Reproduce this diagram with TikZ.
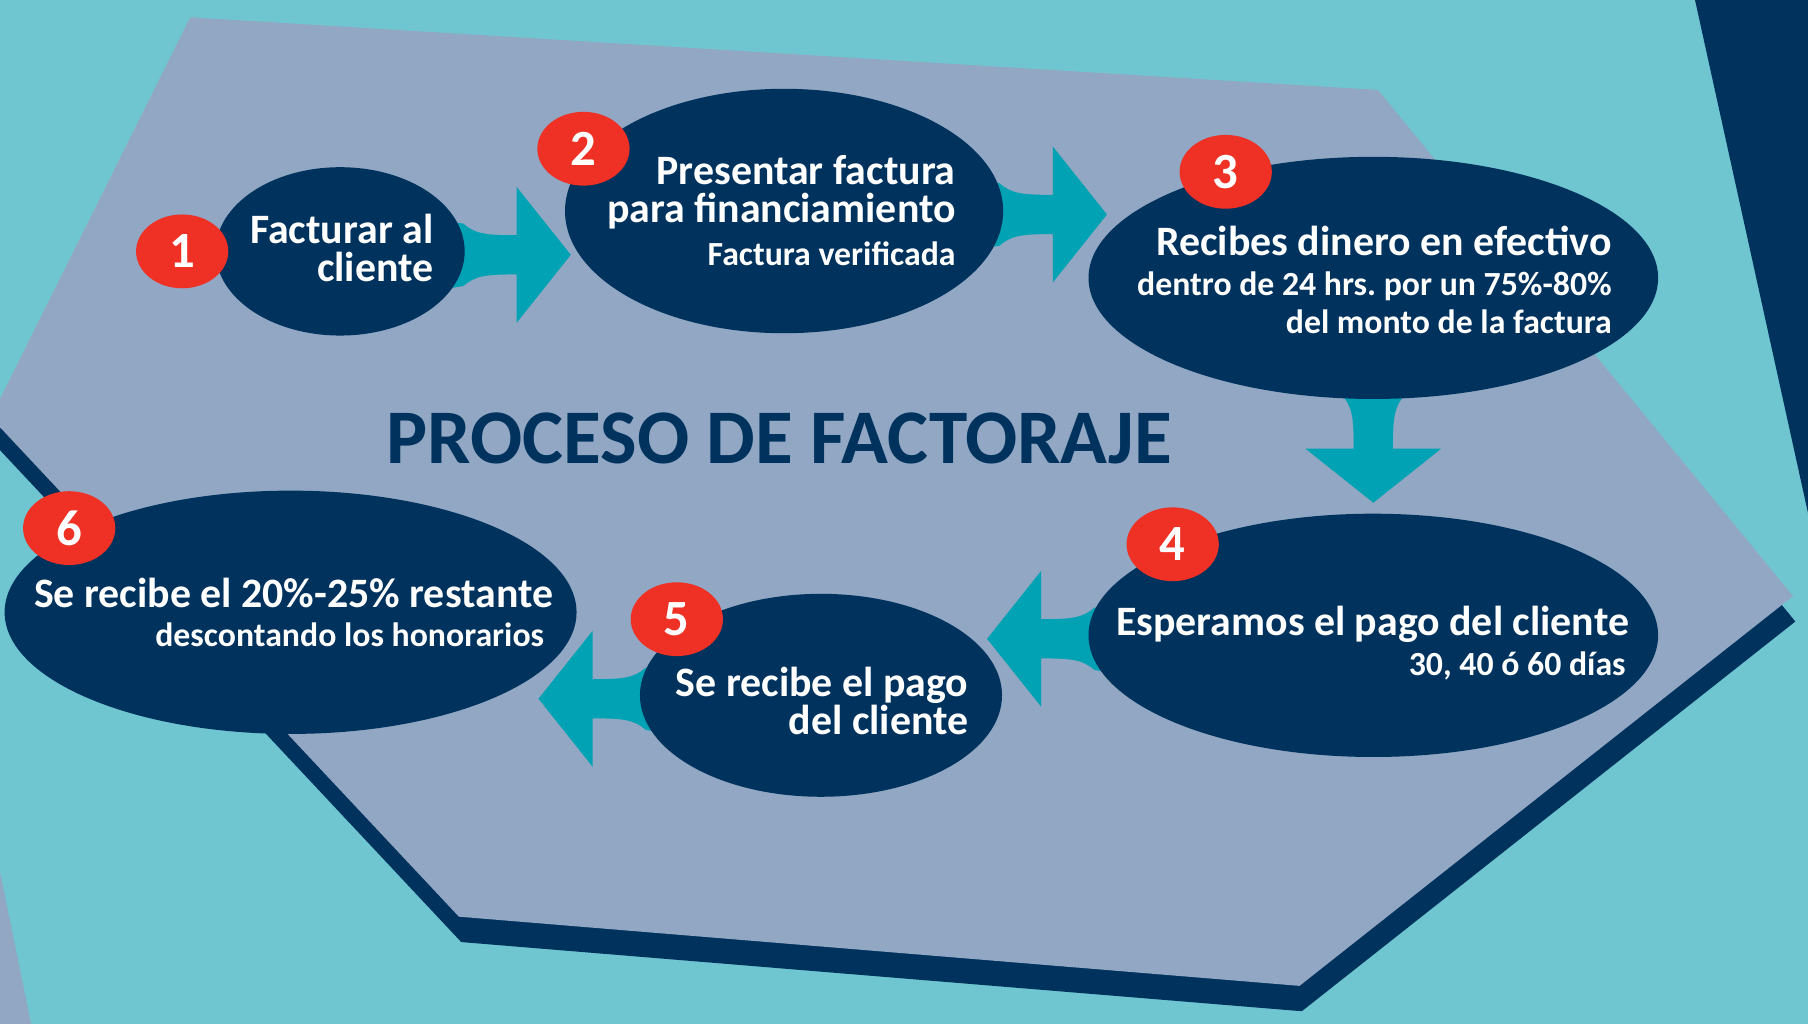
\documentclass[tikz,border=0pt]{standalone}
\usepackage{fontspec}
\setmainfont{Carlito}
\usetikzlibrary{shapes.geometric}
\definecolor{bgteal}{HTML}{6FC6D0}
\definecolor{hexgray}{HTML}{91A7C3}
\definecolor{navy}{HTML}{00325E}
\definecolor{arrteal}{HTML}{00A2B3}
\definecolor{numred}{HTML}{EE3124}
\frenchspacing
\begin{document}
\begin{tikzpicture}[x=1pt,y=-1pt,
  stepell/.style={ellipse, fill=navy, inner sep=0pt},
  numdot/.style={ellipse, fill=numred, minimum width=80pt, minimum height=64pt, inner sep=0pt, text=white, font=\fontsize{44}{44}\selectfont\bfseries},
  bigtxt/.style={anchor=base east, text=white, inner sep=0pt, font=\fontsize{36.3}{36}\selectfont\bfseries},
  smalltxt/.style={anchor=base east, text=white, inner sep=0pt, font=\fontsize{29.3}{29}\selectfont\bfseries},
  blockarrow/.pic={\fill[arrteal] (-64,-30) -- (-46,-27) .. controls (-36,-18) and (-26,-17) .. (0,-17) -- (0,-59) -- (47,0) -- (0,59) -- (0,17) .. controls (-26,17) and (-36,18) .. (-46,27) -- (-64,30) -- cycle;}
]
\useasboundingbox (0,0) rectangle (1568,888);
% background
\fill[bgteal] (0,0) rectangle (1568,888);
\fill[navy] (1470,0) -- (1568,0) -- (1568,445) -- cycle;
\fill[hexgray] (0,756) -- (27,888) -- (0,888) -- cycle;
% hexagon shadow and hexagon
\fill[navy] (167,37) -- (1197,100) -- (1557,539) -- (1129,877) -- (400,817) -- (-6,384) -- cycle;
\fill[hexgray] (165,15) -- (1195,78) -- (1555,517) -- (1127,855) -- (398,795) -- (-8,362) -- cycle;
% arrows
\pic at (448,221) {blockarrow};
\pic at (913,186) {blockarrow};
\pic[rotate=-90] at (1191,389) {blockarrow};
\pic[rotate=180] at (903,554) {blockarrow};
\pic[rotate=180] at (514,606) {blockarrow};
% ellipses
\node[stepell, minimum width=216pt, minimum height=146pt] (e1) at (295,218) {};
\node[stepell, minimum width=380pt, minimum height=212pt] (e2) at (680,183) {};
\node[stepell, minimum width=494pt, minimum height=210pt] (e3) at (1191,241) {};
\node[stepell, minimum width=494pt, minimum height=211pt] (e4) at (1191,551) {};
\node[stepell, minimum width=314pt, minimum height=176pt] (e5) at (712,603) {};
\node[stepell, minimum width=496pt, minimum height=211pt] (e6) at (252,531) {};
% numbers
\node[numdot] (n1) at (158,218) {1};
\node[numdot] (n2) at (506,129) {2};
\node[numdot] (n3) at (1063,149) {3};
\node[numdot] (n4) at (1017,472) {4};
\node[numdot] (n5) at (587,537) {5};
\node[numdot] (n6) at (60,458) {6};
% title
\node[anchor=base, inner sep=0pt, text=navy, font=\fontsize{67}{67}\selectfont\bfseries] (title) at (676,402) {PROCESO DE FACTORAJE};
% texts
\node[bigtxt] (t1a) at (376,211) {Facturar al};
\node[bigtxt] (t1b) at (376,244) {cliente};
\node[bigtxt] (t2a) at (829,160) {Presentar factura};
\node[bigtxt] (t2b) at (829,193) {para financiamiento};
\node[smalltxt] (t2c) at (829,230) {Factura verificada};
\node[bigtxt] (t3a) at (1398,222) {Recibes dinero en efectivo};
\node[smalltxt] (t3b) at (1398,256) {dentro de 24 hrs. por un 75\%-80\%};
\node[smalltxt] (t3c) at (1398,289) {del monto de la factura};
\node[bigtxt] (t4a) at (1413,551) {Esperamos el pago del cliente};
\node[smalltxt] (t4b) at (1410,586) {30, 40 ó 60 días};
\node[bigtxt] (t5a) at (840,604) {Se recibe el pago};
\node[bigtxt] (t5b) at (840,637) {del cliente};
\node[bigtxt] (t6a) at (480,527) {Se recibe el 20\%-25\% restante};
\node[smalltxt] (t6b) at (472,561) {descontando los honorarios};
\end{tikzpicture}
\end{document}
